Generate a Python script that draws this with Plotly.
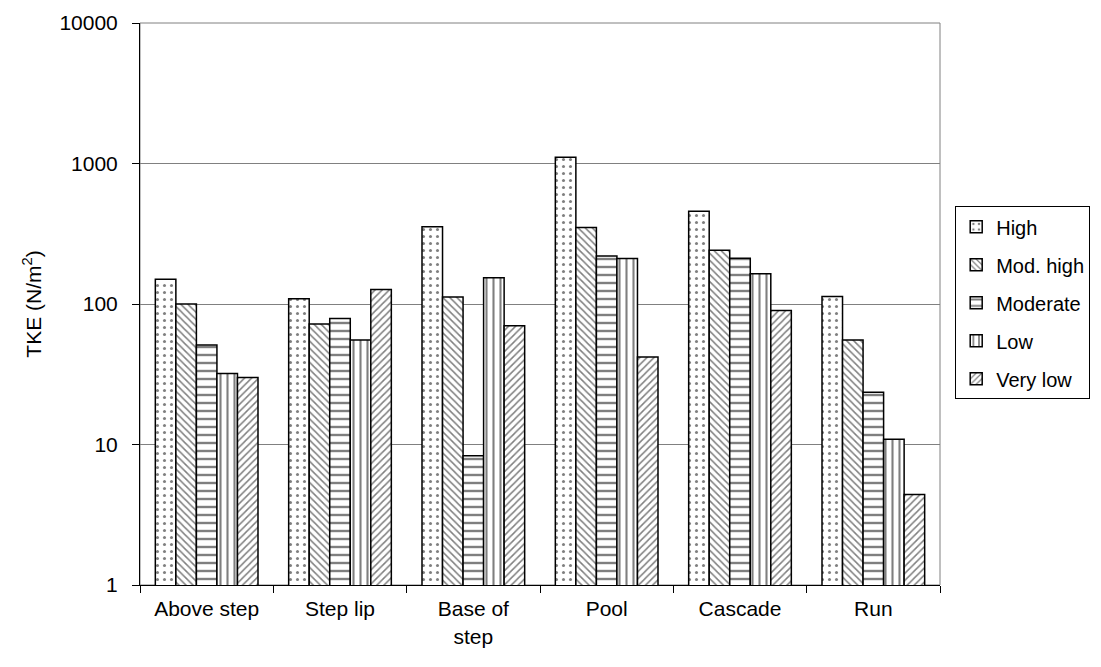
import plotly.graph_objects as go

categories = ["Above step", "Step lip", "Base of<br>step", "Pool", "Cascade", "Run"]
series_names = ["High", "Mod. high", "Moderate", "Low", "Very low"]
high = [150, 109, 355, 1110, 457, 113]
mod_high = [100, 72, 112, 351, 241, 55.5]
moderate = [51, 79, 8.3, 220, 212, 23.5]
low = [32, 55.5, 154, 211, 164, 10.9]
very_low = [30, 127, 70, 42, 90, 4.4]
y_ticks = [1, 10, 100, 1000, 10000]
y_tick_text = ["1", "10", "100", "1000", "10000"]

series_values = [high, mod_high, moderate, low, very_low]
patterns = [
    dict(shape=".", size=7, solidity=0.15),
    dict(shape="\\", size=5, solidity=0.3),
    dict(shape="-", size=8, solidity=0.3),
    dict(shape="|", size=7, solidity=0.3),
    dict(shape="/", size=5, solidity=0.3),
]

FONT = "Liberation Sans, Arial, sans-serif"
FS = 21

fig = go.Figure()
for name, vals, pat in zip(series_names, series_values, patterns):
    fig.add_trace(go.Bar(
        x=categories, y=vals, name=name, legendgroup=name,
        marker=dict(color="white",
                    line=dict(color="black", width=1.5),
                    pattern=dict(fgcolor="black", bgcolor="white", **pat)),
    ))

fig.update_layout(
    width=1093, height=659,
    margin=dict(l=132, r=161, t=15, b=82, autoexpand=False),
    paper_bgcolor="white", plot_bgcolor="white",
    barmode="group", bargap=0.23, bargroupgap=0,
    font=dict(family=FONT, size=FS, color="black"),
    legend=dict(x=1.019, xanchor="left", y=0.674, yanchor="top",
                bordercolor="black", borderwidth=1,
                font=dict(family=FONT, size=20),
                tracegroupgap=9, traceorder="grouped",
                itemwidth=30),
    xaxis=dict(type="category", tickson="boundaries", ticks="outside",
               ticklen=7, tickcolor="black", showline=True,
               linecolor="black", linewidth=1, mirror=False,
               showgrid=False, tickfont=dict(size=FS), ticklabelstandoff=5),
    yaxis=dict(type="log", range=[0, 4], tickvals=y_ticks, ticktext=y_tick_text,
               ticks="outside", ticklen=7, tickcolor="black",
               showline=True, linecolor="black", linewidth=1,
               showgrid=True, gridcolor="#808080", gridwidth=1,
               tickfont=dict(size=FS), ticklabelstandoff=10,
               title=dict(text="TKE (N/m<sup>2</sup>)", font=dict(size=FS), standoff=12)),
)
# gray frame on top and right of the plot area
fig.add_shape(type="rect", xref="paper", yref="paper", x0=0, y0=0, x1=1, y1=1,
              line=dict(color="#808080", width=1), layer="below")

fig.write_html("out.html")
